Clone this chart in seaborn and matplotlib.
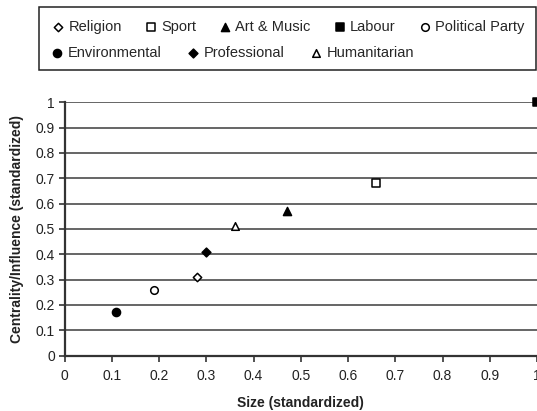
"""
Centrality/influence vs size of organisation categories (standardized)
"""

# %% Imports
import numpy as np
import seaborn as sns
from matplotlib import pyplot as plt
from matplotlib.patches import Rectangle

# %% Data
categories = ["Religion", "Sport", "Art & Music", "Labour", "Political Party",
              "Environmental", "Professional", "Humanitarian"]
size_std = [0.28, 0.66, 0.47, 1.00, 0.19, 0.11, 0.30, 0.36]
centrality_std = [0.31, 0.68, 0.57, 1.00, 0.26, 0.17, 0.41, 0.51]
markers = ["D", "s", "^", "s", "o", "o", "D", "^"]
filled = [False, False, True, True, False, True, True, False]
marker_sizes = [18, 30, 34, 40, 30, 34, 20, 30]

x_ticks = np.round(np.arange(0, 1.01, 0.1), 1)
y_ticks = np.round(np.arange(0, 1.01, 0.1), 1)
tick_labels = ["0", "0.1", "0.2", "0.3", "0.4", "0.5", "0.6", "0.7", "0.8", "0.9", "1"]

# %% Plot
sns.set_style("white")
plt.rcParams["font.family"] = ["Liberation Sans", "DejaVu Sans"]

W, H = 537, 411
fig = plt.figure(figsize=(W / 100, H / 100), dpi=100)
ax = fig.add_axes([64.5 / W, 1 - 355.5 / H, 472.5 / W, 253.2 / H])

for name, x, y, m, f, s in zip(categories, size_std, centrality_std, markers, filled, marker_sizes):
    sns.scatterplot(
        x=[x], y=[y], marker=m, s=s,
        color="black" if f else "white", edgecolor="black", linewidth=1.1,
        label=name, ax=ax, zorder=5, clip_on=False,
    )
handles, labels = ax.get_legend_handles_labels()
ax.legend_.remove()

ax.set_xlim(0, 1)
ax.set_ylim(0, 1)
ax.set_xticks(x_ticks)
ax.set_xticklabels(tick_labels)
ax.set_yticks(y_ticks)
ax.set_yticklabels(tick_labels)
for yv in y_ticks[1:]:
    ax.axhline(yv, color="#3c3c3c", linewidth=1.1, zorder=1)

ax.spines[["top", "right"]].set_visible(False)
ax.spines[["left", "bottom"]].set_color("#333333")
ax.spines[["left", "bottom"]].set_linewidth(1.6)
ax.tick_params(axis="both", direction="out", length=4, width=1.2, color="#333333",
               labelsize=10, labelcolor="#222222", pad=3)
ax.tick_params(axis="x", pad=6)
ax.tick_params(left=True, bottom=True)

ax.set_xlabel("Size (standardized)", fontsize=10, fontweight="bold", color="#222222", labelpad=9)
ax.set_ylabel("Centrality/Influence (standardized)", fontsize=10, fontweight="bold",
              color="#222222", labelpad=8)

# legend: two flowing rows inside a single frame
leg_kw = dict(frameon=False, fontsize=10.5, handlelength=0.7, handletextpad=0.35,
              borderpad=0, borderaxespad=0, loc="center left")
leg1 = fig.legend(handles[:5], labels[:5], ncol=5, columnspacing=1.65,
                  bbox_to_anchor=(53 / W, 1 - 26.7 / H), **leg_kw)
leg2 = fig.legend(handles[5:], labels[5:], ncol=3, columnspacing=1.85,
                  bbox_to_anchor=(52 / W, 1 - 53.3 / H), **leg_kw)
fig.add_artist(Rectangle((39.3 / W, 1 - 70 / H), (536 - 39.3) / W, (70 - 7.3) / H,
                         transform=fig.transFigure, fill=False, edgecolor="#222222",
                         linewidth=1.1))

fig.savefig("out.png", dpi=100)
